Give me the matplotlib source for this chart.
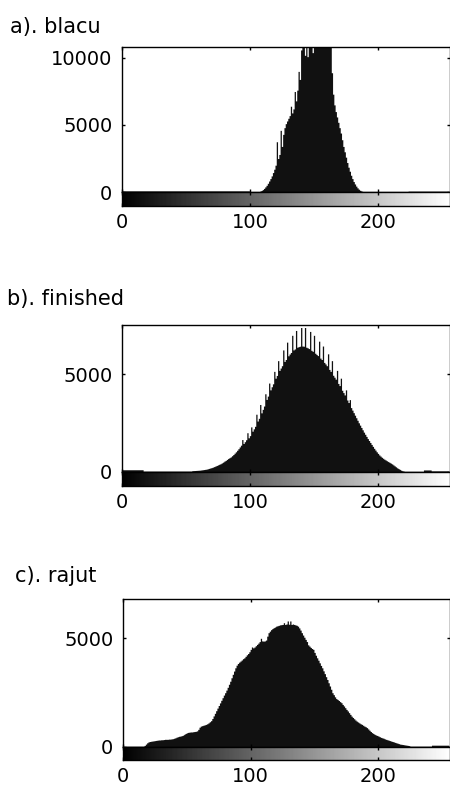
import numpy as np
import matplotlib
matplotlib.use("Agg")
import matplotlib.pyplot as plt

plt.rcParams['font.family'] = ['DejaVu Sans']

titles = ["a). blacu", "b). finished", "c). rajut"]
bins = np.arange(256)
x_ticks = [0, 100, 200]
y_ticks = [[0, 5000, 10000], [0, 5000], [0, 5000]]
y_max = [10820, 7530, 6800]

counts_a = (
    [80] * 100 + [30] * 8 +
    [60, 110, 180, 270, 380, 500, 650, 820, 1000, 1200, 1450, 1700,
     2000, 3750, 2500, 2800, 4600, 3400, 4300, 4800, 5100, 5300, 5500, 5700,
     6400, 5900, 6200, 7500, 6800, 7600, 9000, 8400, 10600, 11200, 11800, 10200,
     12400, 10100, 12900, 13300, 13500, 10400, 13800, 14000, 14200, 14100, 14000, 13800,
     13500, 13200, 12900, 12500, 12100, 11700, 11300, 11000, 8900, 7300, 6500, 6000,
     5600, 5200, 4800, 4400, 3900, 3400, 3000, 2600, 2200, 1850, 1550, 1250,
     1000, 780, 600, 440, 310, 210, 130, 80, 40] +
    [15] * 35 + [60] * 32
)

counts_b = (
    [100] * 17 + [25] * 38 +
    [50, 55, 60, 65, 70, 75, 80, 90, 100, 110, 120, 130, 150, 170, 190, 210,
     235, 260, 290, 320, 350, 380, 410, 450, 490, 540, 580, 630, 680, 720, 760, 820,
     880, 950, 1020, 1100, 1180, 1270, 1360, 1650, 1450, 1540, 1640, 2000, 1740, 1850,
     2300, 2080, 2200, 2330, 2950, 2600, 2740, 3450, 3020, 3200, 3370, 4000, 3710, 3880,
     4550, 4200, 4360, 4510, 5150, 4800, 4940, 5700, 5200, 5320, 5440, 6250, 5660, 5760,
     6650, 5950, 6040, 6120, 7000, 6250, 6300, 7250, 6390, 6420, 6440, 7400, 6450, 6440,
     7400, 6390, 6360, 6320, 7200, 6230, 6180, 7000, 6080, 6020, 5960, 6700, 5830, 5760,
     6450, 5610, 5530, 5440, 6050, 5250, 5150, 5700, 4950, 4850, 4750, 5200, 4530, 4420,
     4800, 4180, 4060, 3940, 4200, 3680, 3550, 3700, 3290, 3160,
     3030, 2900, 2770, 2640, 2510, 2390, 2270, 2150, 2030, 1920, 1810, 1700, 1600, 1500,
     1400, 1300, 1200, 1110, 1020, 940, 860, 800, 740, 690, 640, 600, 560, 520, 480, 440,
     400, 350, 300, 250, 200, 160, 120, 80, 50, 30] +
    [15] * 15 + [90] * 6 + [40] * 14
)

counts_c = (
    [20] * 17 +
    [60, 120, 180, 220, 240, 250, 260, 270, 280, 290, 300, 310, 310, 320, 320, 330,
     340, 340, 340, 350, 350, 360, 370, 390, 410, 440, 460, 480, 490, 510, 530, 570,
     610, 640, 660, 670, 680, 680, 690, 700, 710, 730, 800, 900, 950, 970, 990, 1010,
     1030, 1060, 1100, 1150, 1200, 1300, 1420, 1540, 1660, 1780, 1900, 2020, 2140, 2260, 2380, 2490,
     2610, 2740, 2880, 3020, 3180, 3340, 3490, 3640, 3760, 3840, 3900, 3950, 4000, 4060, 4100, 4170,
     4240, 4300, 4380, 4490, 4600, 4560, 4600, 4660, 4720, 4780, 4850, 5000, 4880, 4870, 4880, 4920,
     5100, 5260, 5330, 5400, 5450, 5490, 5520, 5560, 5580, 5600, 5620, 5630, 5640, 5720, 5640, 5660,
     5800, 5650, 5800, 5640, 5660, 5640, 5620, 5600, 5560, 5480, 5380, 5260, 5150, 5050, 4950, 4850,
     4700, 4640, 4580, 4530, 4490, 4350, 4220, 4100, 3990, 3870, 3750, 3640, 3500, 3370, 3230, 3100,
     2950, 2800, 2650, 2490, 2400, 2300, 2220, 2180, 2130, 2080, 2030, 1950, 1880, 1800, 1720, 1650,
     1570, 1490, 1410, 1350, 1290, 1230, 1180, 1140, 1100, 1060, 1030, 990, 950, 920, 880, 820,
     760, 700, 650, 610, 570, 540, 520, 490, 460, 430, 410, 390, 360, 340, 320, 300,
     280, 260, 240, 220, 200, 180, 160, 140, 120, 110, 100, 90, 80, 70, 60, 50] +
    [20] * 17 + [70] * 14
)

all_counts = [counts_a, counts_b, counts_c]

W, H = 450, 792
fig = plt.figure(figsize=(W / 100, H / 100), dpi=100)

# pixel layout: (left, right, top, bottom of hist, bottom of colorbar, title baseline, title x)
layout = [
    (122, 449.7, 47, 192, 206, 33, 10),
    (122, 449.7, 325, 471.7, 485.7, 305, 7),
    (123, 450.0, 599.3, 746.7, 760, 582, 15),
]

fs = 14
for i, (left, right, top, bot, cbot, tb, tx) in enumerate(layout):
    counts = np.array(all_counts[i], dtype=float)
    n = min(len(counts), 256)
    ax = fig.add_axes([left / W, 1 - bot / H, (right - left) / W, (bot - top) / H])
    ax.fill_between(bins[:n], counts[:n], step='mid', color='#111111', linewidth=0)
    ax.set_xlim(0, 256)
    ax.set_ylim(0, y_max[i])
    ax.set_xticks(x_ticks)
    ax.set_xticklabels([])
    ax.set_yticks(y_ticks[i])
    ax.set_yticklabels([str(v) for v in y_ticks[i]], fontsize=fs)
    ax.tick_params(direction='in', length=2.2, width=1, top=True, right=True,
                   bottom=True, left=True, pad=7)
    for s in ax.spines.values():
        s.set_linewidth(1.0)
        s.set_color('black')

    cax = fig.add_axes([left / W, 1 - cbot / H, (right - left) / W, (cbot - bot) / H])
    cax.imshow(bins[None, :], cmap='gray', aspect='auto', extent=[0, 256, 0, 1],
               vmin=0, vmax=255, interpolation='nearest')
    cax.set_xlim(0, 256)
    cax.set_ylim(0, 1)
    cax.set_xticks(x_ticks)
    cax.set_xticklabels([str(v) for v in x_ticks], fontsize=fs)
    cax.set_yticks([])
    cax.tick_params(direction='in', length=2.2, width=1, top=True, bottom=True, pad=5)
    for s in cax.spines.values():
        s.set_linewidth(1.0)
        s.set_color('black')

    fig.text(tx / W, 1 - tb / H, titles[i], fontsize=15, ha='left', va='baseline')

fig.savefig("out.png", dpi=100)
